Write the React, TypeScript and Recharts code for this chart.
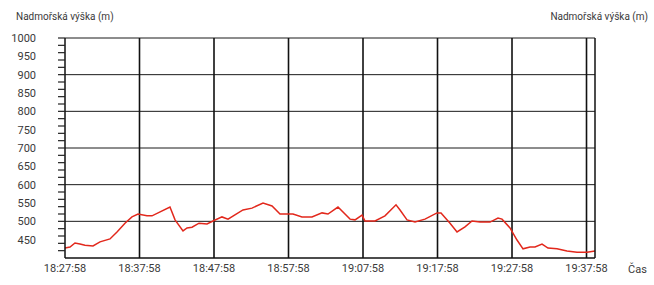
import React from 'react';
import { LineChart, Line, XAxis, YAxis, CartesianGrid } from 'recharts';

// minutes since 18:27:58
const minutes = [
  0, 0.67, 1.34, 2.01, 2.68, 3.76, 4.7, 6.04, 6.98, 8.05, 8.99, 9.8, 11.0, 11.68,
  14.09, 14.77, 15.84, 16.38, 17.05, 17.99, 19.06, 19.87, 21.07, 21.88, 23.89,
  25.1, 26.58, 27.79, 28.86, 30.6, 31.81, 33.15, 34.5, 35.3, 36.64, 38.26, 38.93,
  39.87, 40.27, 41.61, 42.95, 44.43, 44.97, 45.91, 46.98, 48.32, 49.93, 50.47,
  51.68, 52.62, 53.69, 54.63, 55.7, 57.05, 58.12, 58.66, 59.73, 60.67, 61.48,
  62.42, 63.09, 64.03, 64.83, 66.04, 67.38, 68.72, 70.07, 71.14,
];
const altitude = [
  427, 430, 441, 438, 435, 433, 444, 452, 471, 495, 512, 520, 515, 515,
  539, 504, 474, 482, 484, 495, 493, 501, 512, 506, 531,
  536, 550, 542, 520, 520, 512, 512, 523, 520, 539, 506, 504,
  517, 501, 501, 515, 545, 531, 504, 498, 506, 523, 523,
  495, 471, 485, 501, 498, 498, 509, 506, 482, 449, 425,
  430, 430, 438, 427, 425, 419, 416, 416, 419,
];
const timeTicks = [0, 10, 20, 30, 40, 50, 60, 70];
const timeLabels = ['18:27:58', '18:37:58', '18:47:58', '18:57:58', '19:07:58', '19:17:58', '19:27:58', '19:37:58'];
const altTicks = [400, 410, 420, 430, 440, 450, 460, 470, 480, 490, 500, 510, 520, 530, 540, 550, 560, 570, 580, 590, 600, 610, 620, 630, 640, 650, 660, 670, 680, 690, 700, 710, 720, 730, 740, 750, 760, 770, 780, 790, 800, 810, 820, 830, 840, 850, 860, 870, 880, 890, 900, 910, 920, 930, 940, 950, 960, 970, 980, 990, 1000];
const gridAlt = [500, 600, 700, 800, 900, 1000];
const gridTime = [10, 20, 30, 40, 50, 60, 70];
const yTitle = 'Nadmořská výška (m)';
const xTitle = 'Čas';

const data = minutes.map((t, i) => ({ t, alt: altitude[i] }));

const FONT = "Roboto, 'Noto Sans', sans-serif";
const TEXT = '#3a3a3a';

const LeftTick = (props: any) => {
  const { x, y, payload } = props;
  const v = payload.value;
  return (
    <g>
      {v % 20 === 0 && v > 400 && <line x1={x - 7} x2={x} y1={y} y2={y} stroke="#222" strokeWidth={1.2} />}
      {v % 50 === 0 && v >= 450 && (
        <text x={x - 29} y={y} dy="0.35em" textAnchor="end" fontSize={11} fontFamily={FONT} fill={TEXT}>
          {v}
        </text>
      )}
    </g>
  );
};

const RightTick = (props: any) => {
  const { x, y, payload } = props;
  const v = payload.value;
  return (
    <g>
      {v % 20 === 0 && v > 400 && <line x1={x} x2={x + 7} y1={y} y2={y} stroke="#222" strokeWidth={1.2} />}
      {v % 50 === 0 && v >= 450 && (
        <text x={x + 27} y={y} dy="0.35em" textAnchor="start" fontSize={11} fontFamily={FONT} fill={TEXT}>
          {v}
        </text>
      )}
    </g>
  );
};

export default function App() {
  return (
    <div style={{ position: 'absolute', left: 0, top: 0, width: 654, height: 285, background: '#fff' }}>
      <div style={{ position: 'absolute', left: 16, top: 11, fontFamily: FONT, fontSize: 10, color: TEXT, whiteSpace: 'nowrap' }}>{yTitle}</div>
      <div style={{ position: 'absolute', right: 6, top: 11, fontFamily: FONT, fontSize: 10, color: TEXT, whiteSpace: 'nowrap' }}>{yTitle}</div>
      <div style={{ position: 'absolute', left: 628, top: 263, fontFamily: FONT, fontSize: 11, color: TEXT }}>{xTitle}</div>
      <LineChart width={654} height={285} data={data} margin={{ top: 38, right: 0, left: 0, bottom: 0 }}>
        <CartesianGrid yAxisId="left" vertical={false} horizontalValues={gridAlt} stroke="#1a1a1a" strokeWidth={1} />
        <CartesianGrid yAxisId="left" horizontal={false} verticalValues={gridTime} stroke="#111" strokeWidth={1.6} />
        <XAxis
          dataKey="t"
          type="number"
          domain={[0, 71.14]}
          ticks={timeTicks}
          tickFormatter={(v: number) => timeLabels[timeTicks.indexOf(v)] ?? ''}
          height={27}
          tickLine={false}
          tickSize={0}
          tickMargin={6}
          axisLine={{ stroke: '#111', strokeWidth: 1.5 }}
          tick={{ fontSize: 11, fontFamily: FONT, fill: TEXT }}
          interval={0}
        />
        <YAxis
          yAxisId="left"
          orientation="left"
          type="number"
          domain={[400, 1000]}
          ticks={altTicks}
          width={65}
          tickLine={false}
          tickSize={0}
          tickMargin={0}
          axisLine={{ stroke: '#111', strokeWidth: 1.5 }}
          tick={<LeftTick />}
          interval={0}
        />
        <YAxis
          yAxisId="right"
          orientation="right"
          type="number"
          domain={[400, 1000]}
          ticks={altTicks}
          width={59}
          tickLine={false}
          tickSize={0}
          tickMargin={0}
          axisLine={{ stroke: '#111', strokeWidth: 1.5 }}
          tick={<RightTick />}
          interval={0}
        />
        <Line
          yAxisId="left"
          dataKey="alt"
          type="linear"
          stroke="#e2281c"
          strokeWidth={1.5}
          dot={false}
          isAnimationActive={false}
        />
      </LineChart>
    </div>
  );
}
